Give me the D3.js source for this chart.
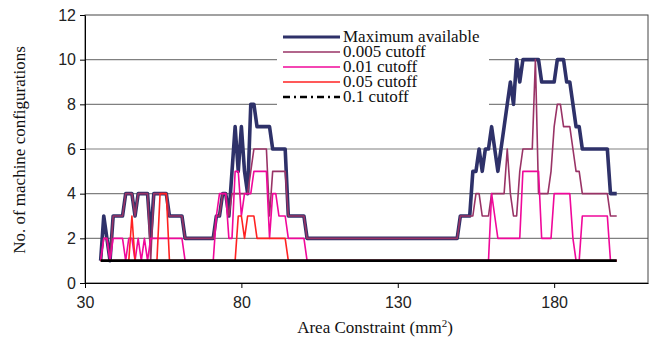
<!DOCTYPE html>
<meta charset="utf-8">
<style>
  body { margin: 0; background: #fff; }
  .tick text { font-family: "Liberation Sans", Arial, sans-serif; font-size: 16px; fill: #222; }
  .axis path, .axis line { stroke: #000; }
  .title { font-family: "Liberation Serif", "Times New Roman", serif; font-size: 17px; fill: #111; }
  .legend text { font-family: "Liberation Serif", "Times New Roman", serif; font-size: 17px; fill: #111; }
</style>
<svg width="657" height="343"></svg>
<script src="https://d3js.org/d3.v7.min.js"></script>
<script>
  // area constraint of the first point, then one point per mm2
  var areaStart = 35;

  var seriesNames = ["Maximum available", "0.005 cutoff", "0.01 cutoff", "0.05 cutoff", "0.1 cutoff"];

  var maxAvailable = [
    1,3,2,1,3,3,3,3,4,4,
    4,3,4,4,4,4,2,4,4,4,
    4,4,3,3,3,3,3,2,2,2,
    2,2,2,2,2,2,2,3,3,4,
    4,3,5,7,5,7,5,4,8,8,
    7,7,7,7,7,6,6,6,6,6,
    3,3,3,3,3,3,2,2,2,2,
    2,2,2,2,2,2,2,2,2,2,
    2,2,2,2,2,2,2,2,2,2,
    2,2,2,2,2,2,2,2,2,2,
    2,2,2,2,2,2,2,2,2,2,
    2,2,2,2,2,3,3,3,3,5,
    5,6,5,6,6,7,6,5,6,7,
    8,9,8,10,9,10,10,10,10,10,
    10,9,9,9,9,9,10,10,10,9,
    9,8,7,7,6,6,6,6,6,6,
    6,6,6,4,4,4
  ];

  var cutoff005 = [
    1,2,2,1,3,3,3,3,4,4,
    4,3,4,4,4,4,1,4,4,4,
    4,4,3,3,3,3,3,2,2,2,
    2,2,2,2,2,2,2,3,3,4,
    4,3,4,4,4,4,4,4,5,6,
    6,6,6,6,3,5,5,5,5,5,
    3,3,3,3,3,3,2,2,2,2,
    2,2,2,2,2,2,2,2,2,2,
    2,2,2,2,2,2,2,2,2,2,
    2,2,2,2,2,2,2,2,2,2,
    2,2,2,2,2,2,2,2,2,2,
    2,2,2,2,2,3,3,3,3,3,
    4,4,3,3,3,4,4,4,4,4,
    6,4,3,3,5,6,6,6,6,10,
    4,4,4,4,5,7,8,8,7,7,
    7,6,5,5,4,4,4,4,4,4,
    4,4,4,3,3,3
  ];

  var cutoff01 = [
    1,2,2,1,2,2,2,2,1,2,
    2,1,2,1,2,1,2,2,2,2,
    2,2,2,2,2,2,2,1,1,1,
    1,1,1,1,1,1,1,3,4,4,
    4,2,2,5,5,3,4,4,4,5,
    5,5,5,5,2,4,4,3,3,3,
    2,2,2,2,2,2,1,1,1,1,
    1,1,1,1,1,1,1,1,1,1,
    1,1,1,1,1,1,1,1,1,1,
    1,1,1,1,1,1,1,1,1,1,
    1,1,1,1,1,1,1,1,1,1,
    1,1,1,1,1,1,1,1,1,1,
    1,1,1,1,1,4,3,2,2,2,
    2,2,2,2,2,5,5,5,5,5,
    5,2,2,2,2,4,4,4,4,4,
    4,2,1,1,3,3,3,3,3,3,
    3,3,3,1,1,1
  ];

  var cutoff05 = [
    1,1,1,1,1,1,1,1,1,1,
    3,1,1,1,1,1,1,1,1,4,
    4,4,1,1,1,1,1,1,1,1,
    1,1,1,1,1,1,1,1,1,1,
    1,1,1,1,3,3,2,3,3,3,
    2,2,2,2,2,2,2,2,2,2,
    1,1,1,1,1,1,1,1,1,1,
    1,1,1,1,1,1,1,1,1,1,
    1,1,1,1,1,1,1,1,1,1,
    1,1,1,1,1,1,1,1,1,1,
    1,1,1,1,1,1,1,1,1,1,
    1,1,1,1,1,1,1,1,1,1,
    1,1,1,1,1,1,1,1,1,1,
    1,1,1,1,1,1,1,1,1,1,
    1,1,1,1,1,1,1,1,1,1,
    1,1,1,1,1,1,1,1,1,1,
    1,1,1,1,1,1
  ];

  var cutoff1 = [
    1,1,1,1,1,1,1,1,1,1,
    1,1,1,1,1,1,1,1,1,1,
    1,1,1,1,1,1,1,1,1,1,
    1,1,1,1,1,1,1,1,1,1,
    1,1,1,1,1,1,1,1,1,1,
    1,1,1,1,1,1,1,1,1,1,
    1,1,1,1,1,1,1,1,1,1,
    1,1,1,1,1,1,1,1,1,1,
    1,1,1,1,1,1,1,1,1,1,
    1,1,1,1,1,1,1,1,1,1,
    1,1,1,1,1,1,1,1,1,1,
    1,1,1,1,1,1,1,1,1,1,
    1,1,1,1,1,1,1,1,1,1,
    1,1,1,1,1,1,1,1,1,1,
    1,1,1,1,1,1,1,1,1,1,
    1,1,1,1,1,1,1,1,1,1,
    1,1,1,1,1,1
  ];

  var xTicks = [30, 80, 130, 180];
  var yTicks = [0, 2, 4, 6, 8, 10, 12];

  var svg = d3.select("svg");

  var x = d3.scaleLinear().domain([30, 210]).range([85, 648]);
  var y = d3.scaleLinear().domain([0, 12]).range([283, 15]);

  // grid lines
  svg.append("g")
    .selectAll("line")
    .data(yTicks.filter(function(d) { return d > 0 && d < 12; }))
    .enter().append("line")
    .attr("x1", x(30)).attr("x2", x(210))
    .attr("y1", function(d) { return y(d); })
    .attr("y2", function(d) { return y(d); })
    .attr("stroke", "#808080")
    .attr("stroke-width", 1.2);

  // frame
  svg.append("rect")
    .attr("x", x(30)).attr("y", y(12))
    .attr("width", x(210) - x(30)).attr("height", y(0) - y(12))
    .attr("fill", "none")
    .attr("stroke", "#444")
    .attr("stroke-width", 1);

  var styles = [
    { color: "#2E3169", width: 3.6, dash: null },
    { color: "#993366", width: 1.6, dash: null },
    { color: "#F0089A", width: 1.6, dash: null },
    { color: "#FF2222", width: 1.6, dash: null },
    { color: "#000000", width: 2.6, dash: "7,4,2,4" }
  ];
  var allSeries = [maxAvailable, cutoff005, cutoff01, cutoff05, cutoff1];

  var line = d3.line()
    .x(function(d, i) { return x(areaStart + i); })
    .y(function(d) { return y(d); });

  svg.append("g")
    .selectAll("path")
    .data(allSeries)
    .enter().append("path")
    .attr("d", line)
    .attr("fill", "none")
    .attr("stroke", function(d, i) { return styles[i].color; })
    .attr("stroke-width", function(d, i) { return styles[i].width; })
    .attr("stroke-linejoin", "round");

  // axes
  svg.append("g")
    .attr("class", "axis")
    .attr("transform", "translate(" + x(30) + ",0)")
    .call(d3.axisLeft(y).tickValues(yTicks).tickSize(5).tickSizeOuter(0).tickPadding(4));

  svg.append("g")
    .attr("class", "axis")
    .attr("transform", "translate(0," + y(0) + ")")
    .call(d3.axisBottom(x).tickValues(xTicks).tickSize(5).tickSizeOuter(0).tickPadding(9));

  // titles
  svg.append("text")
    .attr("class", "title")
    .attr("transform", "translate(25,150) rotate(-90)")
    .attr("text-anchor", "middle")
    .text("No. of machine configurations");

  var xt = svg.append("text")
    .attr("class", "title")
    .attr("x", 375).attr("y", 333)
    .attr("text-anchor", "middle");
  xt.append("tspan").text("Area Constraint (mm");
  xt.append("tspan").attr("font-size", 11).attr("dy", -6).text("2");
  xt.append("tspan").attr("dy", 6).text(")");

  // legend
  var legend = svg.append("g").attr("class", "legend");
  legend.append("rect")
    .attr("x", 277).attr("y", 24)
    .attr("width", 212).attr("height", 82)
    .attr("fill", "#fff");

  var rowY = [37, 52, 67, 82, 97];
  var item = legend.selectAll("g.item")
    .data(seriesNames)
    .enter().append("g")
    .attr("class", "item")
    .attr("transform", function(d, i) { return "translate(0," + rowY[i] + ")"; });

  item.append("line")
    .attr("x1", 283).attr("x2", 340)
    .attr("stroke", function(d, i) { return styles[i].color; })
    .attr("stroke-width", function(d, i) { return i === 0 ? 3 : styles[i].width; })
    .attr("stroke-dasharray", function(d, i) { return styles[i].dash; });

  item.append("text")
    .attr("x", 343).attr("y", 5)
    .text(function(d) { return d; });
</script>
